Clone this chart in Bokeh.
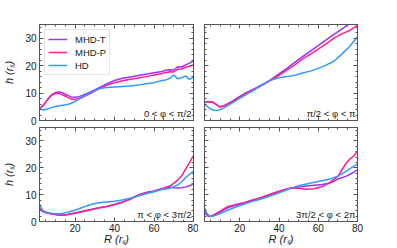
from bokeh.plotting import figure
from bokeh.models import Legend, LegendItem, Label, LinearAxis, SingleIntervalTicker, Range1d
from bokeh.layouts import gridplot
from bokeh.embed import file_html
from bokeh.resources import INLINE

# ---------------- data ----------------
series_names = ["MHD-T", "MHD-P", "HD"]
panel_labels = ["0 < φ < π/2", "π/2 < φ < π", "π < φ < 3π/2", "3π/2 < φ < 2π"]

R1 = [2, 4, 6, 8, 10, 12, 14, 16, 18, 20, 22, 24, 28, 32, 36, 40, 44, 48, 52, 56, 60, 64, 66, 68, 70, 72, 74, 76, 78, 80]
T1 = [4.3, 5.5, 7.5, 9.3, 10.2, 10.4, 10.0, 9.2, 8.6, 8.5, 8.7, 9.2, 10.5, 11.9, 13.3, 14.6, 15.4, 15.9, 16.4, 16.9, 17.4, 17.9, 18.3, 18.5, 18.4, 19.6, 19.5, 20.3, 20.9, 21.7]
P1 = [4.3, 5.6, 7.6, 9.2, 9.8, 9.8, 9.3, 8.5, 7.8, 7.7, 8.0, 8.5, 9.9, 11.5, 12.8, 13.8, 14.5, 15.0, 15.5, 16.0, 16.6, 17.1, 17.5, 17.8, 17.7, 18.7, 18.8, 19.4, 19.8, 20.3]
H1 = [4.3, 3.8, 4.2, 4.7, 5.1, 5.4, 5.6, 5.8, 6.2, 7.0, 7.8, 8.7, 10.3, 11.6, 12.0, 12.2, 12.4, 12.6, 12.9, 13.4, 13.8, 14.6, 14.8, 15.4, 16.6, 15.2, 15.6, 16.2, 15.0, 15.8]

R2 = [2, 4, 6, 8, 10, 12, 16, 20, 24, 28, 32, 36, 40, 44, 48, 52, 56, 60, 64, 68, 72, 76, 80]
T2 = [6.6, 6.8, 6.7, 5.8, 5.0, 5.4, 7.0, 8.8, 10.4, 11.8, 13.3, 15.0, 17.0, 19.0, 21.2, 23.3, 25.3, 27.3, 29.4, 31.4, 33.3, 35.3, 37.2]
P2 = [6.6, 6.8, 6.8, 5.9, 4.9, 5.3, 6.8, 8.6, 10.2, 11.6, 13.1, 14.7, 16.5, 18.4, 20.3, 22.5, 24.2, 26.0, 27.9, 30.0, 31.6, 32.8, 34.8]
H2 = [6.0, 4.8, 3.9, 3.6, 4.0, 4.6, 6.3, 8.1, 9.8, 11.4, 13.2, 14.8, 15.6, 16.0, 16.5, 17.3, 18.0, 19.0, 20.2, 21.6, 24.2, 27.0, 30.5]

R3 = [2, 3, 4, 6, 8, 10, 12, 14, 16, 20, 24, 28, 32, 36, 40, 44, 48, 52, 56, 60, 64, 66, 68, 70, 72, 74, 76, 78, 80]
T3 = [5.0, 4.2, 3.6, 3.2, 2.9, 2.6, 2.4, 2.4, 2.6, 3.2, 3.8, 4.5, 5.1, 5.6, 6.3, 7.2, 8.4, 9.9, 10.8, 11.4, 12.2, 12.6, 12.8, 12.6, 12.5, 12.6, 12.8, 13.3, 13.9]
P3 = [5.0, 4.2, 3.6, 3.2, 2.9, 2.6, 2.3, 2.3, 2.5, 3.1, 3.7, 4.4, 5.0, 5.6, 6.3, 7.2, 8.3, 9.8, 10.7, 11.3, 12.2, 12.7, 13.2, 14.2, 15.4, 17.0, 19.5, 22.0, 24.5]
H3 = [6.5, 4.8, 3.9, 3.4, 3.1, 2.9, 2.9, 3.1, 3.4, 4.2, 5.3, 6.3, 7.0, 7.3, 7.5, 8.0, 8.7, 9.5, 10.3, 11.1, 11.9, 12.1, 12.4, 13.0, 13.6, 14.8, 16.3, 17.6, 18.8]

R4 = [2, 3, 4, 5, 6, 8, 10, 14, 18, 22, 26, 30, 34, 38, 42, 46, 50, 54, 58, 62, 66, 70, 74, 76, 78, 80]
T4 = [3.8, 2.6, 2.0, 1.9, 2.1, 2.8, 3.6, 5.2, 6.0, 6.8, 7.7, 8.6, 9.6, 10.6, 11.6, 12.4, 12.8, 13.2, 13.5, 13.8, 14.3, 15.8, 16.8, 17.5, 18.3, 19.3]
P4 = [3.8, 2.6, 2.0, 1.9, 2.2, 3.0, 3.9, 5.6, 6.3, 7.0, 7.9, 8.8, 9.8, 10.8, 11.7, 12.5, 12.4, 12.0, 12.2, 13.0, 14.6, 16.8, 21.5, 23.2, 24.3, 26.3]
H4 = [5.2, 3.3, 2.4, 2.0, 1.9, 2.4, 3.0, 4.3, 5.4, 6.4, 7.4, 8.2, 9.1, 10.1, 11.2, 12.4, 13.3, 14.0, 14.6, 15.2, 15.8, 16.9, 18.6, 19.6, 20.5, 21.5]

colors = ["#9933ff", "#ff1f8f", "#3399ff"]
FONT = "Liberation Sans"
AXC = "#555555"
TXT = "#1a1a1a"


def style_axis(ax, show_labels, xdir):
    ax.axis_line_color = AXC
    ax.major_tick_line_color = AXC
    ax.minor_tick_line_color = AXC
    ax.major_tick_in = 4
    ax.major_tick_out = 0
    ax.minor_tick_in = 2
    ax.minor_tick_out = 0
    if show_labels:
        ax.major_label_text_font = FONT
        ax.major_label_text_font_size = "10px"
        ax.major_label_text_color = TXT
        ax.major_label_standoff = 2 if xdir else 3
    else:
        ax.major_label_text_color = None
        ax.major_label_standoff = 0


def make_panel(R, T, P, H, label, col, row, legend=False):
    left = 39 if col == 0 else 6
    right = 5 if col == 0 else 8
    top = 24 if row == 0 else 1
    bottom = 6 if row == 0 else 24
    fw = 154 if col == 0 else 153
    fh = 96
    p = figure(width=left + fw + right, height=top + fh + bottom,
               x_range=Range1d(2, 80), y_range=Range1d(0, 35),
               output_backend="svg", toolbar_location=None, title=None,
               x_axis_location=None, y_axis_location=None,
               min_border_left=left, min_border_right=right,
               min_border_top=top, min_border_bottom=bottom)
    p.grid.visible = False
    p.outline_line_color = AXC
    p.background_fill_color = "white"
    p.border_fill_color = "white"

    xb = LinearAxis(ticker=SingleIntervalTicker(interval=20, num_minor_ticks=4))
    style_axis(xb, row == 1, True)
    if row == 1:
        xb.axis_label = "R (rₛ)"
        xb.axis_label_text_font = FONT
        xb.axis_label_text_font_size = "11px"
        xb.axis_label_text_font_style = "italic"
        xb.axis_label_text_color = TXT
        xb.axis_label_standoff = -2
    p.add_layout(xb, "below")
    xa = LinearAxis(ticker=SingleIntervalTicker(interval=20, num_minor_ticks=4))
    style_axis(xa, False, True)
    p.add_layout(xa, "above")

    yl = LinearAxis(ticker=SingleIntervalTicker(interval=10, num_minor_ticks=5))
    style_axis(yl, col == 0, False)
    if col == 0:
        yl.axis_label = "h (rₛ)"
        yl.axis_label_text_font = FONT
        yl.axis_label_text_font_size = "11px"
        yl.axis_label_text_font_style = "italic"
        yl.axis_label_text_color = TXT
        yl.axis_label_standoff = 7
    p.add_layout(yl, "left")
    yr = LinearAxis(ticker=SingleIntervalTicker(interval=10, num_minor_ticks=5))
    style_axis(yr, False, False)
    p.add_layout(yr, "right")

    rs = []
    for ys, c in zip([T, P, H], colors):
        rs.append(p.line(R, ys, line_color=c, line_width=1.5))

    if legend:
        lg = Legend(items=[LegendItem(label=n, renderers=[r]) for n, r in zip(series_names, rs)],
                    location="top_left", label_text_font=FONT, label_text_font_size="9.5px",
                    label_text_color=TXT, glyph_width=19, glyph_height=12, label_height=12,
                    label_standoff=8, spacing=1, padding=3, margin=5,
                    border_line_color="#cccccc", border_line_width=1,
                    background_fill_color="white", background_fill_alpha=0.9)
        p.add_layout(lg)

    p.add_layout(Label(x=80, y=0, x_offset=-2, y_offset=2, text=label,
                       text_align="right", text_baseline="bottom",
                       text_font=FONT, text_font_size="9.5px", text_color=TXT))
    return p


p1 = make_panel(R1, T1, P1, H1, panel_labels[0], 0, 0, legend=True)
p2 = make_panel(R2, T2, P2, H2, panel_labels[1], 1, 0)
p3 = make_panel(R3, T3, P3, H3, panel_labels[2], 0, 1)
p4 = make_panel(R4, T4, P4, H4, panel_labels[3], 1, 1)

grid = gridplot([[p1, p2], [p3, p4]], toolbar_location=None)

open("out.html", "w").write(file_html(grid, INLINE))
